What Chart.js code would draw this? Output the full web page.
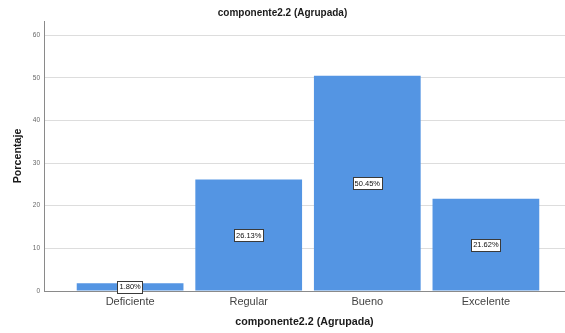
<!DOCTYPE html>
<html>
<head>
<meta charset="utf-8">
<script src="https://cdn.jsdelivr.net/npm/chart.js@4/dist/chart.umd.min.js"></script>
<style>
html,body{margin:0;padding:0;background:#fff;}
#wrap{width:565px;height:333px;position:relative;}
</style>
</head>
<body>
<div id="wrap"><canvas id="c" width="565" height="333"></canvas></div>
<script>
const categories = ['Deficiente', 'Regular', 'Bueno', 'Excelente'];
const percentages = [1.80, 26.13, 50.45, 21.62];
const yTicks = [0, 10, 20, 30, 40, 50, 60];
const chartTitle = 'componente2.2 (Agrupada)';
const xTitle = 'componente2.2 (Agrupada)';
const yTitle = 'Porcentaje';

const barLabels = {
  id: 'barLabels',
  afterDatasetsDraw(chart) {
    const ctx = chart.ctx;
    const meta = chart.getDatasetMeta(0);
    ctx.save();
    ctx.font = '7.5px "Liberation Sans", Arial, sans-serif';
    ctx.textAlign = 'center';
    ctx.textBaseline = 'middle';
    meta.data.forEach((el, i) => {
      const txt = percentages[i].toFixed(2) + '%';
      const cx = el.x;
      const cy = (el.y + el.base) / 2;
      const w = ctx.measureText(txt).width + 4;
      const h = 12;
      const x0 = Math.round(cx - w / 2) + 0.5;
      const y0 = Math.round(cy - h / 2) + 0.5;
      ctx.fillStyle = '#ffffff';
      ctx.fillRect(x0, y0, Math.round(w), h);
      ctx.strokeStyle = '#3a3a3a';
      ctx.lineWidth = 1;
      ctx.strokeRect(x0, y0, Math.round(w), h);
      ctx.fillStyle = '#111';
      ctx.fillText(txt, cx, cy + 0.5);
    });
    ctx.restore();
  }
};

new Chart(document.getElementById('c'), {
  type: 'bar',
  data: {
    datasets: [{
      data: percentages.map((v, i) => ({ x: i, y: v })),
      backgroundColor: 'rgb(84,149,227)',
      borderWidth: 0,
      categoryPercentage: 0.9,
      barPercentage: 1.0
    }]
  },
  options: {
    responsive: false,
    animation: false,
    devicePixelRatio: 1,
    layout: { padding: 0 },
    plugins: {
      legend: { display: false },
      tooltip: { enabled: false },
      title: {
        display: true,
        text: chartTitle,
        color: '#1a1a1a',
        font: { family: '"Liberation Sans", Arial, sans-serif', size: 10, weight: 'bold' },
        padding: { top: 7, bottom: 2 }
      }
    },
    scales: {
      x: {
        type: 'linear',
        offset: false,
        min: -0.726,
        max: 3.667,
        afterBuildTicks(scale) { scale.ticks = categories.map((c, i) => ({ value: i })); },
        afterFit(scale) { scale.height = 42; },
        grid: { display: false, drawTicks: false },
        border: { display: true, color: '#8a8a8a', width: 1 },
        ticks: {
          callback: (v) => categories[v] !== undefined ? categories[v] : '',
          color: '#444',
          font: { family: '"Liberation Sans", Arial, sans-serif', size: 11 },
          padding: 4,
          maxRotation: 0,
          autoSkip: false
        },
        title: {
          display: true,
          text: xTitle,
          color: '#1a1a1a',
          font: { family: '"Liberation Sans", Arial, sans-serif', size: 10.7, weight: 'bold' },
          padding: { top: 0, bottom: 5 }
        }
      },
      y: {
        min: 0,
        max: 63.3,
        afterBuildTicks(scale) { scale.ticks = yTicks.map(v => ({ value: v })); },
        afterFit(scale) { scale.width = 44; },
        grid: { color: '#dddddd', lineWidth: 1, drawTicks: false },
        border: { display: true, color: '#8a8a8a', width: 1 },
        ticks: {
          color: '#666',
          font: { family: '"Liberation Sans", Arial, sans-serif', size: 6.5 },
          padding: 4
        },
        title: {
          display: true,
          text: yTitle,
          color: '#1a1a1a',
          font: { family: '"Liberation Sans", Arial, sans-serif', size: 10.7, weight: 'bold' },
          padding: { top: 12, bottom: 0 }
        }
      }
    }
  },
  plugins: [barLabels]
});
</script>
</body>
</html>
